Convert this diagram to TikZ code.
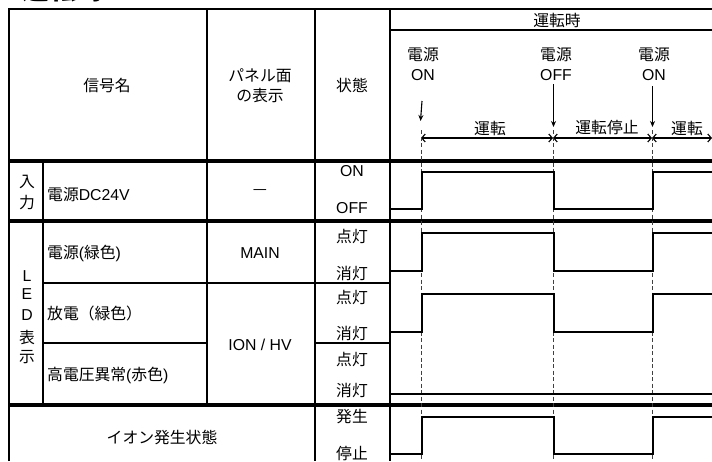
\documentclass[tikz,border=0pt]{standalone}
\usepackage{fontspec}
\setmainfont{Liberation Sans}
\newfontfamily\cjk{Noto Sans CJK JP}
\usetikzlibrary{arrows.meta}
\begin{document}
\begin{tikzpicture}[x=1pt,y=-1pt,
  font=\fontsize{15.8}{20}\selectfont,
  gridline/.style={line width=1.5pt},
  heavyrule/.style={line width=3.3pt},
  wave/.style={line width=2.7pt},
  guide/.style={line width=0.9pt, dash pattern=on 4pt off 2.5pt, black!75},
  downarrow/.style={line width=1.1pt,-{Stealth[length=6pt,width=5pt]}},
  dimarrow/.style={line width=1.1pt,{Straight Barb[length=3.5pt,width=8pt]}-{Straight Barb[length=3.5pt,width=8pt]}},
  lbl/.style={inner sep=0pt, align=center},
  lblw/.style={inner sep=0pt, anchor=west}]
\useasboundingbox (0,0) rectangle (712,461);

% partially visible heading at the top
\begin{scope}
\clip (0,0) rectangle (712,461);
\node[lbl, anchor=south west, font=\fontsize{27}{30}\selectfont] (heading) at (22,2) {\cjk\bfseries 運転時};
\end{scope}

% ---------- table grid ----------
\draw[gridline] (9,461) -- (9,9) -- (712,9);
\draw[gridline] (207,9) -- (207,405);
\draw[gridline] (315,9) -- (315,461);
\draw[gridline] (390,9) -- (390,461);
\draw[gridline] (43,161) -- (43,405);
\draw[gridline] (390,30) -- (712,30);
\draw[gridline] (43,283) -- (390,283);
\draw[gridline] (43,343) -- (207,343);
\draw[gridline] (315,343) -- (390,343);
\draw[heavyrule] (9,161) -- (712,161);
\draw[heavyrule] (9,221) -- (712,221);
\draw[heavyrule] (9,405) -- (712,405);

% ---------- header texts ----------
\node[lbl] (hname) at (107,85) {\cjk 信号名};
\node[lbl] (hpanel) at (260,86) {\cjk パネル面\\\cjk の表示};
\node[lbl] (hstate) at (352,85) {\cjk 状態};
\node[lbl] (hrun) at (557,20) {\cjk 運転時};
\node[lbl] (p1) at (423,64) {\cjk 電源\\ON};
\node[lbl] (p2) at (556,64) {\cjk 電源\\OFF};
\node[lbl] (p3) at (654,64) {\cjk 電源\\ON};

% ---------- event arrows ----------
\coordinate (a1s) at (422,101);
\coordinate (a1e) at (420.5,121);
\coordinate (a2s) at (553.5,84);
\coordinate (a2e) at (553.5,127);
\coordinate (a3s) at (652.5,86);
\coordinate (a3e) at (652.5,127);
\draw[downarrow] (a1s) -- (a1e);
\draw[downarrow] (a2s) -- (a2e);
\draw[downarrow] (a3s) -- (a3e);

\coordinate (t1) at (421,138);
\coordinate (t2) at (553,138);
\coordinate (t3) at (652,138);
\coordinate (t4) at (712,138);
\draw[dimarrow] (t1) -- (t2);
\draw[dimarrow] (t2) -- (t3);
\draw[dimarrow] (t3) -- (t4);
\node[lbl] (r1) at (490,128) {\cjk 運転};
\node[lbl] (r2) at (607,128) {\cjk 運転停止};
\node[lbl] (r3) at (687,128) {\cjk 運転};

% ---------- guide lines ----------
\coordinate (g1) at (421,130);
\coordinate (g2) at (553,130);
\coordinate (g3) at (652,130);
\draw[guide] (g1) -- (421,461);
\draw[guide] (g2) -- (553,461);
\draw[guide] (g3) -- (652,461);

% ---------- row labels ----------
\node[lbl] (in1) at (27,182) {\cjk 入};
\node[lbl] (in2) at (27,203) {\cjk 力};
\node[lblw] (sig1) at (47,195) {\cjk 電源\rmfamily DC24V};
\node[lbl] (pan1) at (260,192) {\cjk —};
\node[lbl] (s1a) at (352,171) {ON};
\node[lbl] (s1b) at (352,208) {OFF};

\node[lbl] (led1) at (27,276) {L};
\node[lbl] (led2) at (27,294) {E};
\node[lbl] (led3) at (27,315) {D};
\node[lbl] (led4) at (27,337) {\cjk 表};
\node[lbl] (led5) at (27,357) {\cjk 示};

\node[lblw] (sig2) at (47,253) {\cjk 電源\rmfamily(\cjk 緑色\rmfamily)};
\node[lbl] (pan2) at (260,253) {MAIN};
\node[lbl] (s2a) at (352,236) {\cjk 点灯};
\node[lbl] (s2b) at (352,273) {\cjk 消灯};

\node[lblw] (sig3) at (47,313) {\cjk 放電（緑色）};
\node[lbl] (pan3) at (260,345) {ION / HV};
\node[lbl] (s3a) at (352,297) {\cjk 点灯};
\node[lbl] (s3b) at (352,333) {\cjk 消灯};

\node[lblw] (sig4) at (47,375) {\cjk 高電圧異常\rmfamily(\cjk 赤色\rmfamily)};
\node[lbl] (s4a) at (352,359) {\cjk 点灯};
\node[lbl] (s4b) at (352,390) {\cjk 消灯};

\node[lbl] (sig5) at (162,437) {\cjk イオン発生状態};
\node[lbl] (s5a) at (352,417) {\cjk 発生};
\node[lbl] (s5b) at (352,454) {\cjk 停止};

% ---------- waveforms ----------
\draw[wave] (390,209) -| (422,172) -| (554,209) -| (653,172) -- (712,172);
\draw[wave] (390,271) -| (422,233) -| (554,271) -| (653,233) -- (712,233);
\draw[wave] (390,332) -| (422,294) -| (554,332) -| (653,294) -- (712,294);
\draw[wave] (390,394) -- (712,394);
\draw[wave] (390,454) -| (422,417) -| (554,454) -| (653,417) -- (712,417);
\end{tikzpicture}
\end{document}
